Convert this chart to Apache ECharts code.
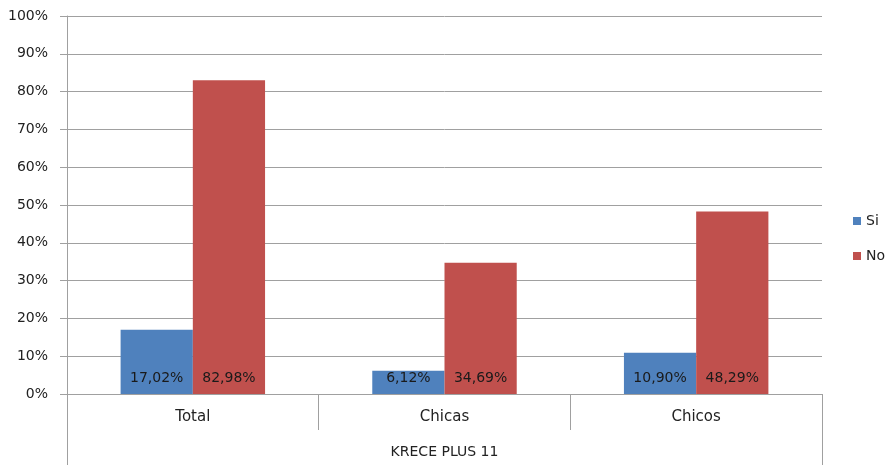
<!DOCTYPE html>
<html><head><meta charset="utf-8">
<script src="https://cdn.jsdelivr.net/npm/echarts@6/dist/echarts.min.js"></script>
<style>html,body{margin:0;padding:0;background:#fff}#c{width:886px;height:465px}</style>
</head><body><div id="c"></div>
<script>
const categories = ['Total', 'Chicas', 'Chicos'];
const groupLabel = ['KRECE PLUS 11'];
const siValues = [17.02, 6.12, 10.90];
const noValues = [82.98, 34.69, 48.29];
const seriesNames = ['Si', 'No'];

const font = 'DejaVu Sans';
const fmt = v => v.toFixed(2).replace('.', ',') + '%';
const chart = echarts.init(document.getElementById('c'));
const lbl = {show: true, position: 'insideBottom', distance: 9, color: '#1a1a1a', fontFamily: font, fontSize: 14,
  formatter: p => fmt(p.value)};
chart.setOption({
  animation: false,
  grid: {left: 67, right: 64, top: 16, bottom: 71},
  legend: {orient: 'vertical', left: 848, top: 209, itemGap: 21, itemWidth: 8, itemHeight: 8, icon: 'rect',
    textStyle: {fontFamily: font, fontSize: 14, color: '#222'}, data: seriesNames},
  xAxis: [{
    type: 'category', data: categories, position: 'bottom',
    axisLine: {lineStyle: {color: '#a0a0a0'}},
    axisTick: {show: true, length: 36, lineStyle: {color: '#a0a0a0'}},
    axisLabel: {margin: 16, color: '#222', fontFamily: font, fontSize: 15}
  }, {
    type: 'category', data: groupLabel, position: 'bottom', offset: 36,
    axisLine: {show: false},
    axisTick: {show: true, length: 35, lineStyle: {color: '#a0a0a0'}},
    axisLabel: {margin: 15, color: '#222', fontFamily: font, fontSize: 14}
  }],
  yAxis: {
    type: 'value', min: 0, max: 100, interval: 10,
    axisLine: {show: true, lineStyle: {color: '#a0a0a0'}},
    axisTick: {show: true, length: 7, lineStyle: {color: '#a0a0a0'}},
    splitLine: {lineStyle: {color: '#a0a0a0'}},
    axisLabel: {margin: 19, color: '#222', fontFamily: font, fontSize: 14, formatter: v => v + '%'}
  },
  series: [
    {name: seriesNames[0], type: 'bar', data: siValues, barGap: '0%', barCategoryGap: '42.6%',
      itemStyle: {color: '#4F81BD'}, label: lbl},
    {name: seriesNames[1], type: 'bar', data: noValues, barGap: '0%', barCategoryGap: '42.6%',
      itemStyle: {color: '#C0504D'}, label: lbl}
  ]
});
</script></body></html>
